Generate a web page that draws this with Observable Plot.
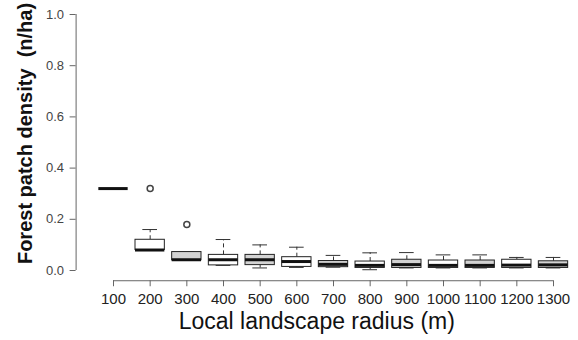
<!DOCTYPE html>
<html>
<head>
<meta charset="utf-8">
<script src="https://cdn.jsdelivr.net/npm/d3@7"></script>
<script src="https://cdn.jsdelivr.net/npm/@observablehq/plot@0.6"></script>
<style>
  html, body { margin: 0; padding: 0; background: white; }
  svg text { white-space: pre; }
</style>
</head>
<body>
<div id="chart"></div>
<script>
// Forest patch density (n/ha) by local landscape radius: box summaries per radius
const radii       = [100, 200, 300, 400, 500, 600, 700, 800, 900, 1000, 1100, 1200, 1300];
const whiskerLow  = [0.32, 0.08, 0.040, 0.020, 0.010, 0.012, 0.013, 0.003, 0.010, 0.010, 0.010, 0.010, 0.010];
const quartile1   = [0.32, 0.08, 0.040, 0.020, 0.021, 0.014, 0.013, 0.010, 0.010, 0.010, 0.010, 0.010, 0.010];
const medians     = [0.32, 0.08, 0.042, 0.042, 0.042, 0.035, 0.024, 0.020, 0.023, 0.020, 0.020, 0.021, 0.022];
const quartile3   = [0.32, 0.12, 0.072, 0.061, 0.061, 0.052, 0.037, 0.035, 0.042, 0.039, 0.039, 0.042, 0.036];
const whiskerHigh = [0.32, 0.16, 0.072, 0.121, 0.100, 0.091, 0.059, 0.069, 0.070, 0.061, 0.061, 0.051, 0.051];
const outliers    = [null, 0.32, 0.18, null, null, null, null, null, null, null, null, null, null];
const yTicks      = [0, 0.2, 0.4, 0.6, 0.8, 1.0];

const rows = radii.map((r, k) => ({
  i: k + 1, radius: r,
  lo: whiskerLow[k], q1: quartile1[k], med: medians[k], q3: quartile3[k], hi: whiskerHigh[k],
  out: outliers[k]
}));
const n = radii.length;
const boxHalf = 0.4, capHalf = 0.2;
const xDomain = [0.5 - 0.04 * n, n + 0.5 + 0.04 * n];
const yDomain = [-0.04, 1.04];

const chart = Plot.plot({
  width: 578,
  height: 340,
  marginLeft: 75.6,
  marginRight: 0,
  marginTop: 3.76,
  marginBottom: 59.76,
  x: {domain: xDomain, range: [75.6, 590.4]},
  y: {domain: yDomain},
  color: {type: "identity"},
  style: {fontFamily: "'Liberation Sans', Arial, sans-serif", background: "white", color: "#222"},
  marks: [
    // axis lines spanning first to last tick
    Plot.ruleX([xDomain[0]], {y1: yTicks[0], y2: yTicks[yTicks.length - 1], stroke: "#666"}),
    Plot.ruleY([yDomain[0]], {x1: 1, x2: n, stroke: "#666"}),
    Plot.axisY({
      ticks: yTicks, tickFormat: d3.format(".1f"), tickSize: 6, tickPadding: 6,
      fontSize: 13, stroke: "#666", color: "#444", label: null
    }),
    Plot.axisX({
      ticks: d3.range(1, n + 1), tickFormat: i => String(radii[i - 1]), tickSize: 6, tickPadding: 7,
      fontSize: 15, fontFamily: "'Liberation Sans Narrow', 'Liberation Sans', Arial, sans-serif",
      stroke: "#666", color: "#222", label: null
    }),
    // dashed whiskers
    Plot.ruleX(rows, {x: "i", y1: "q3", y2: "hi", stroke: "#333", strokeDasharray: "4,3"}),
    Plot.ruleX(rows, {x: "i", y1: "lo", y2: "q1", stroke: "#333", strokeDasharray: "4,3"}),
    // whisker staples
    Plot.ruleY(rows, {y: "hi", x1: d => d.i - capHalf, x2: d => d.i + capHalf, stroke: "#333"}),
    Plot.ruleY(rows, {y: "lo", x1: d => d.i - capHalf, x2: d => d.i + capHalf, stroke: "#333"}),
    // boxes, alternating grey and white
    Plot.rect(rows, {
      x1: d => d.i - boxHalf, x2: d => d.i + boxHalf, y1: "q1", y2: "q3",
      fill: d => d.i % 2 ? "#d3d3d3" : "white", stroke: "#222"
    }),
    // medians
    Plot.ruleY(rows, {y: "med", x1: d => d.i - boxHalf, x2: d => d.i + boxHalf, stroke: "#111", strokeWidth: 3}),
    // outliers
    Plot.dot(rows.filter(d => d.out != null), {x: "i", y: "out", r: 3, stroke: "#444", fill: "none"}),
    // axis titles
    Plot.text(["Forest patch density  (n/ha)"], {
      text: d => d, frameAnchor: "left", rotate: -90, textAnchor: "middle", lineAnchor: "middle",
      dx: -50.6, dy: -9, fontSize: 20, fontWeight: "bold", fill: "#111"
    }),
    Plot.text(["Local landscape radius (m)"], {
      text: d => d, frameAnchor: "bottom", textAnchor: "middle", lineAnchor: "bottom",
      dx: -10.5, dy: 48, fontSize: 23, fill: "#111"
    })
  ]
});
document.getElementById("chart").appendChild(chart);
</script>
</body>
</html>
